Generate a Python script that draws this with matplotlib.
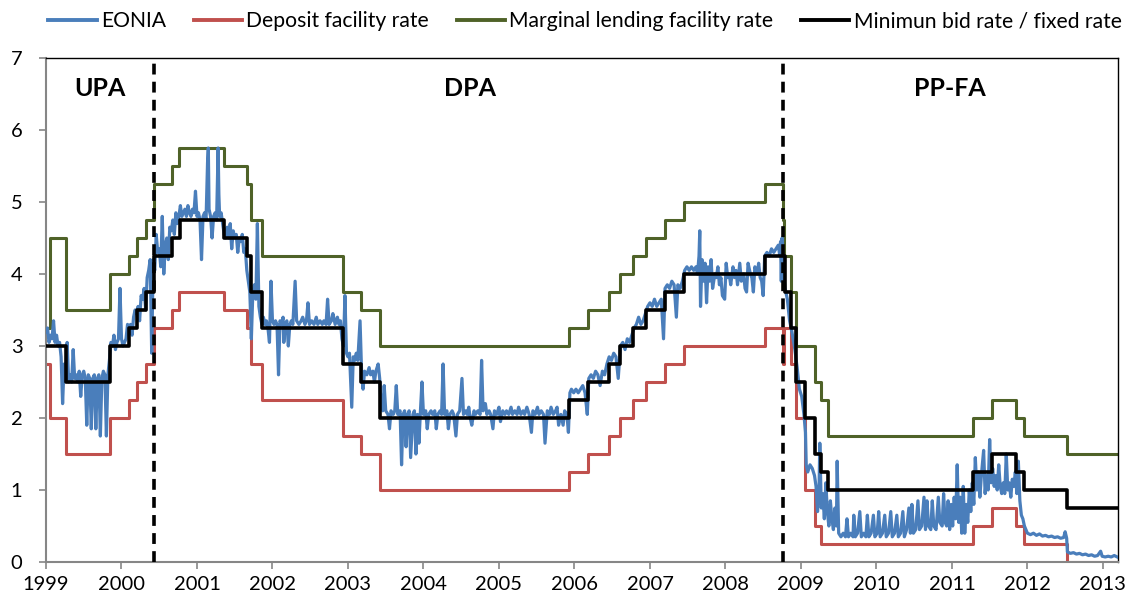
import datetime as dt
import numpy as np
import matplotlib
matplotlib.use("Agg")
import matplotlib.pyplot as plt

# ---------------- data ----------------
years = list(range(1999, 2014))
y_ticks = [0, 1, 2, 3, 4, 5, 6, 7]

series_names = ["EONIA", "Deposit facility rate", "Marginal lending facility rate",
                "Minimun bid rate / fixed rate"]

regime_labels = ["UPA", "DPA", "PP-FA"]
regime_label_x = [1999.72, 2004.62, 2010.97]
regime_breaks = ["2000-06-09", "2008-10-08"]

mro_dates = ['1999-01-01', '1999-04-09', '1999-11-05', '2000-02-04', '2000-03-17', '2000-04-28',
             '2000-06-09', '2000-09-01', '2000-10-11', '2001-05-11', '2001-08-31', '2001-09-18',
             '2001-11-09', '2002-12-06', '2003-03-07', '2003-06-06', '2005-12-06', '2006-03-08',
             '2006-06-15', '2006-08-09', '2006-10-11', '2006-12-13', '2007-03-14', '2007-06-13',
             '2008-07-09', '2008-10-15', '2008-11-12', '2008-12-10', '2009-01-21', '2009-03-11',
             '2009-04-08', '2009-05-13', '2011-04-13', '2011-07-13', '2011-11-09', '2011-12-14',
             '2012-07-11']
mro_values = [3.00, 2.50, 3.00, 3.25, 3.50, 3.75, 4.25, 4.50, 4.75, 4.50, 4.25, 3.75, 3.25,
              2.75, 2.50, 2.00, 2.25, 2.50, 2.75, 3.00, 3.25, 3.50, 3.75, 4.00, 4.25, 3.75,
              3.25, 2.50, 2.00, 1.50, 1.25, 1.00, 1.25, 1.50, 1.25, 1.00, 0.75]

dep_dates = ['1999-01-01', '1999-01-22', '1999-04-09', '1999-11-05', '2000-02-04', '2000-03-17',
             '2000-04-28', '2000-06-09', '2000-09-01', '2000-10-06', '2001-05-11', '2001-08-31',
             '2001-09-18', '2001-11-09', '2002-12-06', '2003-03-07', '2003-06-06', '2005-12-06',
             '2006-03-08', '2006-06-15', '2006-08-09', '2006-10-11', '2006-12-13', '2007-03-14',
             '2007-06-13', '2008-07-09', '2008-10-08', '2008-10-09', '2008-11-12', '2008-12-10',
             '2009-01-21', '2009-03-11', '2009-04-08', '2011-04-13', '2011-07-13', '2011-11-09',
             '2011-12-14', '2012-07-11']
dep_values = [2.75, 2.00, 1.50, 2.00, 2.25, 2.50, 2.75, 3.25, 3.50, 3.75, 3.50, 3.25, 2.75,
              2.25, 1.75, 1.50, 1.00, 1.25, 1.50, 1.75, 2.00, 2.25, 2.50, 2.75, 3.00, 3.25,
              2.75, 3.25, 2.75, 2.00, 1.00, 0.50, 0.25, 0.50, 0.75, 0.50, 0.25, 0.00]

mlf_dates = ['1999-01-01', '1999-01-22', '1999-04-09', '1999-11-05', '2000-02-04', '2000-03-17',
             '2000-04-28', '2000-06-09', '2000-09-01', '2000-10-06', '2001-05-11', '2001-08-31',
             '2001-09-18', '2001-11-09', '2002-12-06', '2003-03-07', '2003-06-06', '2005-12-06',
             '2006-03-08', '2006-06-15', '2006-08-09', '2006-10-11', '2006-12-13', '2007-03-14',
             '2007-06-13', '2008-07-09', '2008-10-08', '2008-10-09', '2008-11-12', '2008-12-10',
             '2009-03-11', '2009-04-08', '2009-05-13', '2011-04-13', '2011-07-13', '2011-11-09',
             '2011-12-14', '2012-07-11']
mlf_values = [3.25, 4.50, 3.50, 4.00, 4.25, 4.50, 4.75, 5.25, 5.50, 5.75, 5.50, 5.25, 4.75,
              4.25, 3.75, 3.50, 3.00, 3.25, 3.50, 3.75, 4.00, 4.25, 4.50, 4.75, 5.00, 5.25,
              4.75, 4.25, 3.75, 3.00, 2.50, 2.25, 1.75, 2.00, 2.25, 2.00, 1.75, 1.50]

end_year = 2013.2

# EONIA (decimal year, percent)
eonia_1999 = [(1999.00, 3.20), (1999.02, 3.25), (1999.04, 3.05), (1999.06, 3.15), (1999.08, 3.10),
              (1999.10, 3.35), (1999.12, 3.05), (1999.14, 3.15), (1999.16, 3.00), (1999.18, 3.05),
              (1999.20, 2.85), (1999.22, 2.20), (1999.24, 2.75), (1999.26, 2.55), (1999.28, 3.05),
              (1999.30, 2.50), (1999.32, 2.60), (1999.34, 2.50), (1999.36, 2.95), (1999.38, 2.55),
              (1999.40, 2.60), (1999.42, 2.50), (1999.44, 2.65), (1999.46, 2.30), (1999.48, 2.60),
              (1999.50, 2.65), (1999.52, 2.55), (1999.54, 1.90), (1999.56, 2.60), (1999.58, 2.55),
              (1999.60, 1.85), (1999.62, 2.55), (1999.64, 2.60), (1999.66, 1.85), (1999.68, 2.55),
              (1999.70, 2.60), (1999.72, 1.75), (1999.74, 2.55), (1999.76, 2.65), (1999.78, 2.60),
              (1999.80, 1.75), (1999.82, 2.60), (1999.84, 2.80), (1999.86, 3.05), (1999.88, 3.00),
              (1999.90, 3.15), (1999.92, 2.95), (1999.94, 3.05), (1999.96, 3.10), (1999.98, 3.80)]
eonia_2000 = [(2000.00, 3.10), (2000.02, 3.00), (2000.04, 3.05), (2000.06, 3.10), (2000.08, 3.30),
              (2000.10, 3.25), (2000.12, 3.30), (2000.14, 3.15), (2000.16, 3.40), (2000.18, 3.50),
              (2000.20, 3.45), (2000.22, 3.55), (2000.24, 3.35), (2000.26, 3.70), (2000.28, 3.65),
              (2000.30, 3.80), (2000.32, 3.50), (2000.34, 3.95), (2000.36, 4.05), (2000.38, 4.20),
              (2000.40, 2.90), (2000.42, 4.20), (2000.44, 4.05), (2000.46, 4.55), (2000.48, 4.30),
              (2000.50, 4.35), (2000.52, 4.10), (2000.54, 4.80), (2000.56, 4.00), (2000.58, 4.40),
              (2000.60, 4.50), (2000.62, 4.20), (2000.64, 4.65), (2000.66, 4.60), (2000.68, 4.75),
              (2000.70, 4.55), (2000.72, 4.85), (2000.74, 4.70), (2000.76, 4.80), (2000.78, 4.95),
              (2000.80, 4.80), (2000.82, 4.85), (2000.84, 4.90), (2000.86, 4.80), (2000.88, 4.95),
              (2000.90, 4.85), (2000.92, 4.80), (2000.94, 4.90), (2000.96, 4.85), (2000.98, 5.15)]
eonia_2001 = [(2001.00, 4.80), (2001.02, 4.85), (2001.04, 4.75), (2001.06, 4.20), (2001.08, 4.80),
              (2001.10, 4.85), (2001.12, 4.75), (2001.14, 5.55), (2001.15, 5.75), (2001.16, 4.90),
              (2001.18, 4.80), (2001.20, 4.50), (2001.22, 4.80), (2001.24, 4.85), (2001.26, 4.75),
              (2001.28, 5.75), (2001.29, 5.10), (2001.30, 4.80), (2001.32, 4.85), (2001.34, 4.70),
              (2001.36, 4.55), (2001.38, 4.50), (2001.40, 4.65), (2001.42, 4.50), (2001.44, 4.70),
              (2001.46, 4.35), (2001.48, 4.60), (2001.50, 4.50), (2001.52, 4.55), (2001.54, 4.30),
              (2001.56, 4.50), (2001.58, 4.45), (2001.60, 4.55), (2001.62, 4.30), (2001.64, 4.35),
              (2001.66, 4.05), (2001.68, 3.90), (2001.70, 3.75), (2001.72, 3.10), (2001.74, 3.75),
              (2001.76, 3.85), (2001.78, 3.65), (2001.80, 4.70), (2001.82, 3.55), (2001.84, 3.40),
              (2001.86, 3.30), (2001.88, 3.40), (2001.90, 3.30), (2001.92, 3.35), (2001.94, 3.25),
              (2001.96, 3.05), (2001.98, 3.90)]
eonia_2002 = [(2002.00, 3.35), (2002.02, 3.30), (2002.04, 3.35), (2002.06, 3.30), (2002.08, 2.60),
              (2002.10, 3.35), (2002.12, 3.30), (2002.14, 3.40), (2002.15, 3.05), (2002.17, 3.30),
              (2002.19, 3.35), (2002.21, 3.00), (2002.23, 3.30), (2002.25, 3.35), (2002.27, 3.30),
              (2002.30, 3.90), (2002.32, 3.35), (2002.35, 3.30), (2002.38, 3.35), (2002.40, 3.40),
              (2002.43, 3.30), (2002.45, 3.35), (2002.47, 3.60), (2002.49, 3.30), (2002.52, 3.35),
              (2002.55, 3.30), (2002.58, 3.40), (2002.60, 3.30), (2002.63, 3.35), (2002.66, 3.30),
              (2002.68, 3.35), (2002.71, 3.30), (2002.73, 3.65), (2002.75, 3.30), (2002.78, 3.35),
              (2002.80, 3.45), (2002.83, 3.30), (2002.86, 3.40), (2002.88, 3.30), (2002.90, 3.35),
              (2002.92, 3.10), (2002.94, 3.00), (2002.96, 3.70)]
eonia_2003 = [(2002.98, 2.90), (2003.00, 2.85), (2003.02, 2.90), (2003.05, 2.15), (2003.07, 2.85),
              (2003.09, 2.80), (2003.11, 2.90), (2003.13, 2.80), (2003.16, 3.35), (2003.18, 2.65),
              (2003.20, 2.40), (2003.22, 2.65), (2003.25, 2.60), (2003.28, 2.70), (2003.30, 2.60),
              (2003.33, 2.65), (2003.35, 2.50), (2003.37, 2.65), (2003.40, 2.75), (2003.42, 2.55),
              (2003.44, 2.15), (2003.46, 2.10), (2003.48, 2.45), (2003.50, 2.10), (2003.53, 2.05),
              (2003.55, 1.85), (2003.57, 2.10), (2003.60, 2.05), (2003.62, 2.10), (2003.64, 2.45),
              (2003.66, 2.05), (2003.69, 2.10), (2003.71, 1.35), (2003.73, 2.05), (2003.75, 2.10),
              (2003.77, 1.60), (2003.79, 2.05), (2003.81, 2.10), (2003.83, 1.45), (2003.86, 2.05),
              (2003.88, 2.10), (2003.90, 1.50), (2003.92, 2.05), (2003.94, 1.65), (2003.96, 2.10),
              (2003.98, 2.50)]
eonia_2004 = [(2004.00, 2.05), (2004.03, 2.10), (2004.05, 1.85), (2004.07, 2.05), (2004.10, 2.10),
              (2004.12, 2.05), (2004.15, 2.10), (2004.17, 1.85), (2004.19, 2.05), (2004.22, 2.10),
              (2004.24, 2.05), (2004.26, 2.75), (2004.28, 2.05), (2004.31, 2.10), (2004.33, 1.85),
              (2004.35, 2.05), (2004.38, 2.10), (2004.40, 2.05), (2004.43, 1.75), (2004.45, 2.05),
              (2004.48, 2.10), (2004.51, 2.55), (2004.53, 2.05), (2004.56, 2.10), (2004.58, 2.05),
              (2004.60, 2.15), (2004.62, 2.00), (2004.64, 1.90), (2004.67, 2.10), (2004.69, 2.05),
              (2004.72, 2.10), (2004.75, 2.05), (2004.77, 2.80), (2004.79, 2.10), (2004.82, 2.20),
              (2004.84, 2.05), (2004.87, 2.10), (2004.89, 2.05), (2004.92, 1.85), (2004.94, 2.10),
              (2004.97, 2.05)]
eonia_2005 = [(2005.00, 2.15), (2005.02, 1.95), (2005.05, 2.10), (2005.08, 2.05), (2005.10, 2.10),
              (2005.13, 2.05), (2005.16, 2.15), (2005.18, 2.05), (2005.21, 2.10), (2005.24, 2.05),
              (2005.26, 2.15), (2005.29, 2.05), (2005.32, 2.10), (2005.34, 2.05), (2005.37, 2.15),
              (2005.40, 2.05), (2005.43, 1.80), (2005.45, 2.10), (2005.48, 2.05), (2005.51, 2.15),
              (2005.53, 2.05), (2005.56, 2.10), (2005.59, 2.05), (2005.61, 1.65), (2005.64, 2.10),
              (2005.67, 2.05), (2005.69, 2.15), (2005.72, 2.05), (2005.75, 2.10), (2005.77, 2.15),
              (2005.79, 1.90), (2005.82, 2.05), (2005.85, 1.90), (2005.87, 2.10), (2005.90, 2.05),
              (2005.92, 1.80), (2005.94, 2.35)]
eonia_2006 = [(2005.96, 2.40), (2005.99, 2.35), (2006.02, 2.40), (2006.05, 2.35), (2006.08, 2.40),
              (2006.11, 2.45), (2006.14, 2.35), (2006.17, 2.05), (2006.19, 2.55), (2006.22, 2.60),
              (2006.25, 2.55), (2006.28, 2.65), (2006.31, 2.60), (2006.34, 2.45), (2006.37, 2.65),
              (2006.40, 2.60), (2006.43, 2.75), (2006.46, 2.85), (2006.49, 2.80), (2006.52, 2.90),
              (2006.55, 2.85), (2006.58, 2.55), (2006.61, 3.00), (2006.64, 3.05), (2006.67, 2.95),
              (2006.70, 3.10), (2006.73, 3.05), (2006.76, 3.15), (2006.79, 3.25), (2006.82, 3.30),
              (2006.85, 3.40), (2006.88, 3.30), (2006.91, 3.35), (2006.94, 3.45), (2006.97, 3.55)]
eonia_2007 = [(2007.00, 3.60), (2007.03, 3.55), (2007.06, 3.65), (2007.09, 3.55), (2007.12, 3.60),
              (2007.15, 3.65), (2007.18, 3.10), (2007.20, 3.80), (2007.23, 3.85), (2007.26, 3.80),
              (2007.29, 3.90), (2007.32, 3.85), (2007.35, 3.40), (2007.37, 3.85), (2007.40, 3.80),
              (2007.43, 3.90), (2007.46, 4.05), (2007.49, 4.10), (2007.52, 4.05), (2007.55, 4.10),
              (2007.58, 4.05), (2007.61, 4.10), (2007.63, 4.00), (2007.65, 4.25), (2007.66, 4.60),
              (2007.67, 3.55), (2007.69, 4.20), (2007.71, 3.90), (2007.73, 4.15), (2007.75, 3.60),
              (2007.77, 4.10), (2007.79, 3.90), (2007.81, 4.20), (2007.83, 3.80), (2007.86, 4.00),
              (2007.88, 3.95), (2007.90, 4.10), (2007.92, 3.85), (2007.94, 3.95), (2007.96, 3.70),
              (2007.99, 3.65)]
eonia_2008 = [(2008.01, 4.15), (2008.03, 3.95), (2008.05, 4.00), (2008.07, 3.85), (2008.10, 4.10),
              (2008.12, 3.95), (2008.14, 4.05), (2008.16, 3.85), (2008.19, 4.15), (2008.21, 3.90),
              (2008.24, 4.00), (2008.26, 3.80), (2008.28, 3.75), (2008.30, 4.15), (2008.33, 4.00),
              (2008.35, 3.95), (2008.37, 3.75), (2008.39, 4.10), (2008.42, 4.00), (2008.44, 4.15),
              (2008.46, 3.95), (2008.48, 3.90), (2008.50, 3.70), (2008.52, 4.25), (2008.55, 4.30),
              (2008.58, 4.25), (2008.61, 4.35), (2008.64, 4.30), (2008.67, 4.35), (2008.70, 4.40),
              (2008.72, 4.25), (2008.73, 4.45), (2008.74, 3.90), (2008.75, 4.50), (2008.76, 4.10),
              (2008.79, 3.80), (2008.82, 3.65), (2008.85, 3.35), (2008.88, 3.20), (2008.92, 2.95),
              (2008.95, 2.70), (2008.98, 2.40)]
eonia_2009 = [(2009.01, 2.30), (2009.04, 2.05), (2009.06, 1.80), (2009.07, 1.35), (2009.09, 1.25),
              (2009.12, 1.35), (2009.15, 1.30), (2009.18, 1.20), (2009.20, 1.05), (2009.22, 0.70),
              (2009.24, 1.00), (2009.25, 1.65), (2009.27, 0.75), (2009.29, 0.95), (2009.31, 0.60),
              (2009.33, 1.10), (2009.35, 0.70), (2009.37, 0.50), (2009.39, 0.85), (2009.41, 0.60),
              (2009.43, 0.45), (2009.45, 0.75), (2009.47, 0.50), (2009.48, 1.40), (2009.50, 0.40),
              (2009.53, 0.35), (2009.56, 0.40), (2009.59, 0.35), (2009.61, 0.60), (2009.63, 0.35),
              (2009.66, 0.40), (2009.69, 0.35), (2009.70, 0.65), (2009.72, 0.35), (2009.75, 0.40),
              (2009.78, 0.70), (2009.80, 0.35), (2009.83, 0.40), (2009.86, 0.35), (2009.88, 0.65),
              (2009.90, 0.35), (2009.93, 0.40), (2009.96, 0.65), (2009.98, 0.35)]
eonia_2010 = [(2010.01, 0.40), (2010.03, 0.70), (2010.05, 0.35), (2010.08, 0.40), (2010.11, 0.65),
              (2010.13, 0.35), (2010.16, 0.40), (2010.19, 0.70), (2010.21, 0.35), (2010.24, 0.40),
              (2010.27, 0.65), (2010.29, 0.35), (2010.32, 0.40), (2010.35, 0.70), (2010.37, 0.35),
              (2010.40, 0.45), (2010.43, 0.75), (2010.45, 0.40), (2010.47, 0.80), (2010.49, 0.40),
              (2010.52, 0.45), (2010.55, 0.85), (2010.57, 0.45), (2010.60, 0.50), (2010.63, 0.90),
              (2010.65, 0.45), (2010.67, 0.85), (2010.69, 0.50), (2010.72, 0.45), (2010.74, 0.85),
              (2010.76, 0.50), (2010.79, 0.45), (2010.82, 0.90), (2010.84, 0.55), (2010.87, 0.50),
              (2010.89, 0.95), (2010.91, 0.55), (2010.93, 0.50), (2010.95, 0.85), (2010.97, 0.45)]
eonia_2011 = [(2010.99, 0.80), (2011.01, 0.50), (2011.03, 0.90), (2011.05, 0.60), (2011.07, 1.35),
              (2011.09, 0.55), (2011.11, 0.90), (2011.13, 0.40), (2011.15, 1.05), (2011.17, 0.40),
              (2011.19, 0.80), (2011.21, 0.55), (2011.23, 1.00), (2011.25, 0.70), (2011.27, 1.10),
              (2011.29, 0.80), (2011.31, 1.45), (2011.33, 1.00), (2011.35, 1.25), (2011.37, 0.90),
              (2011.39, 1.20), (2011.42, 1.55), (2011.44, 0.95), (2011.46, 1.20), (2011.48, 1.00),
              (2011.50, 1.70), (2011.52, 1.10), (2011.54, 1.30), (2011.56, 1.05), (2011.58, 1.20),
              (2011.60, 1.00), (2011.62, 1.35), (2011.64, 1.05), (2011.66, 0.95), (2011.68, 1.10),
              (2011.70, 0.95), (2011.72, 1.50), (2011.74, 1.00), (2011.76, 1.10), (2011.78, 0.90),
              (2011.80, 1.15), (2011.82, 1.05), (2011.84, 1.25), (2011.86, 0.95), (2011.88, 1.40),
              (2011.90, 0.85), (2011.92, 0.65), (2011.94, 0.60), (2011.96, 0.50), (2011.98, 0.45)]
eonia_2012 = [(2012.00, 0.40), (2012.04, 0.38), (2012.08, 0.40), (2012.12, 0.37), (2012.16, 0.39),
              (2012.20, 0.36), (2012.24, 0.37), (2012.28, 0.35), (2012.32, 0.36), (2012.36, 0.34),
              (2012.40, 0.35), (2012.44, 0.33), (2012.48, 0.34), (2012.50, 0.42), (2012.52, 0.33),
              (2012.53, 0.14), (2012.57, 0.12), (2012.61, 0.13), (2012.65, 0.11), (2012.69, 0.12),
              (2012.73, 0.10), (2012.77, 0.11), (2012.81, 0.09), (2012.85, 0.10), (2012.89, 0.08),
              (2012.93, 0.09), (2012.97, 0.15), (2012.99, 0.08), (2013.03, 0.07), (2013.07, 0.08),
              (2013.11, 0.07), (2013.15, 0.09), (2013.19, 0.07)]

# ---------------- helpers ----------------
def to_year(s):
    d = dt.date.fromisoformat(s)
    start = dt.date(d.year, 1, 1)
    length = (dt.date(d.year + 1, 1, 1) - start).days
    return d.year + (d - start).days / length

def steps(dates, values):
    x = [to_year(s) for s in dates] + [end_year]
    y = list(values) + [values[-1]]
    return x, y

eonia = (eonia_1999 + eonia_2000 + eonia_2001 + eonia_2002 + eonia_2003 + eonia_2004 +
         eonia_2005 + eonia_2006 + eonia_2007 + eonia_2008 + eonia_2009 + eonia_2010 +
         eonia_2011 + eonia_2012)
eonia_t = [p[0] for p in eonia]
eonia_v = [p[1] for p in eonia]

# ---------------- figure ----------------
FONT = ["Lato", "DejaVu Sans"]
plt.rcParams["font.family"] = FONT

fig = plt.figure(figsize=(11.29, 6.02), dpi=100)
ax = fig.add_axes([46 / 1129, 1 - 562 / 602, (1118 - 46) / 1129, (562 - 58) / 602])

c_eonia = "#4a7ebb"
c_dep = "#c0504d"
c_mlf = "#4f6228"
c_mro = "#000000"

ax.plot(eonia_t, eonia_v, color=c_eonia, lw=2.3, label=series_names[0], zorder=3,
        solid_joinstyle="round")
x, y = steps(dep_dates, dep_values)
ax.step(x, y, where="post", color=c_dep, lw=2.2, label=series_names[1], zorder=2)
x, y = steps(mlf_dates, mlf_values)
ax.step(x, y, where="post", color=c_mlf, lw=2.2, label=series_names[2], zorder=2)
x, y = steps(mro_dates, mro_values)
ax.step(x, y, where="post", color=c_mro, lw=2.6, label=series_names[3], zorder=4)

for b in regime_breaks:
    ax.axvline(to_year(b), color="black", lw=2.6, ls=(0, (3.0, 2.0)), zorder=5)

for lab, lx in zip(regime_labels, regime_label_x):
    ax.text(lx, 6.58, lab, ha="center", va="center", fontsize=18, fontweight="bold",
            family=FONT)

ax.set_xlim(1999, end_year)
ax.set_ylim(0, 7)
ax.set_xticks(years)
ax.set_xticklabels([str(v) for v in years])
ax.set_yticks(y_ticks)
ax.set_yticklabels([str(v) for v in y_ticks])

gray = "#868686"
for side in ["left", "bottom"]:
    ax.spines[side].set_color(gray)
    ax.spines[side].set_linewidth(1.5)
for side in ["top", "right"]:
    ax.spines[side].set_color("black")
    ax.spines[side].set_linewidth(1.0)
ax.tick_params(axis="both", colors=gray, length=5, width=1.2, direction="out",
               labelsize=14.5, labelcolor="black", top=False, right=False)
ax.tick_params(axis="x", pad=5)
ax.tick_params(axis="y", pad=12)

leg = fig.legend(loc="upper right", bbox_to_anchor=(1128 / 1129, 0.992), ncol=4, frameon=False,
                 fontsize=15.2, handlelength=2.3, handletextpad=0.2, columnspacing=1.3,
                 borderaxespad=0, borderpad=0.3)
for h in leg.get_lines():
    h.set_linewidth(2.8)

fig.savefig("out.png", dpi=100)
